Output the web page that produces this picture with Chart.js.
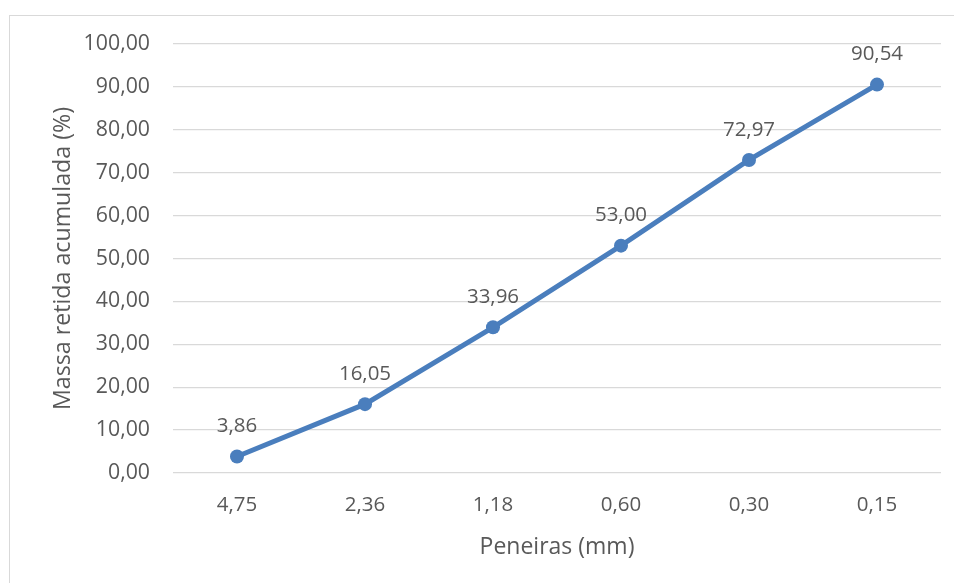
<!DOCTYPE html>
<html>
<head>
<meta charset="utf-8">
<script src="https://cdn.jsdelivr.net/npm/chart.js@4/dist/chart.umd.min.js"></script>
<style>
  html, body { margin: 0; padding: 0; background: #fff; }
  #wrap { position: relative; width: 954px; height: 583px; overflow: hidden; }
  #frame { position: absolute; left: 9px; top: 15px; width: 960px; height: 600px; border: 1px solid #d9d9d9; box-sizing: border-box; }
  canvas { position: absolute; left: 0; top: 0; }
</style>
</head>
<body>
<div id="wrap">
  <div id="frame"></div>
  <canvas id="c" width="954" height="583"></canvas>
</div>
<script>
// Granulometric curve: cumulative retained mass per sieve
const sieves = ['4,75', '2,36', '1,18', '0,60', '0,30', '0,15'];
const retained = [3.86, 16.05, 33.96, 53.00, 72.97, 90.54];
const yTicks = [0, 10, 20, 30, 40, 50, 60, 70, 80, 90, 100];

const FONT = '"Open Sans", sans-serif';
const TEXT = '#595959';
const BLUE = '#4a7ebd';

const fmt = v => v.toFixed(2).replace('.', ',');

// Writes each point's value just above its marker
const valueLabels = {
  id: 'valueLabels',
  afterDatasetsDraw(chart) {
    const ctx = chart.ctx;
    const meta = chart.getDatasetMeta(0);
    ctx.save();
    ctx.font = '20.5px ' + FONT;
    ctx.fillStyle = TEXT;
    ctx.textAlign = 'center';
    ctx.textBaseline = 'middle';
    meta.data.forEach((pt, i) => {
      ctx.fillText(fmt(retained[i]), pt.x, pt.y - 30);
    });
    ctx.restore();
  }
};

new Chart(document.getElementById('c'), {
  type: 'line',
  data: {
    labels: sieves,
    datasets: [{
      data: retained,
      borderColor: BLUE,
      backgroundColor: BLUE,
      borderWidth: 5,
      pointRadius: 7,
      pointHoverRadius: 7,
      pointBorderWidth: 0,
      tension: 0
    }]
  },
  options: {
    responsive: false,
    animation: false,
    devicePixelRatio: 1,
    layout: { padding: { left: 49, top: 44, right: 13, bottom: 22 } },
    plugins: { legend: { display: false }, tooltip: { enabled: false } },
    scales: {
      x: {
        offset: true,
        grid: { display: false },
        border: { display: false },
        ticks: { color: TEXT, font: { family: FONT, size: 20.5 }, padding: 12 },
        title: { display: true, text: 'Peneiras (mm)', color: TEXT, font: { family: FONT, size: 23 }, padding: { top: 6, bottom: 0 } },
        afterFit(s) { s.height = 583 - 22 - 473; }
      },
      y: {
        min: 0, max: 100,
        afterBuildTicks(s) { s.ticks = yTicks.map(v => ({ value: v })); },
        grid: { color: '#d9d9d9', lineWidth: 1.3, drawTicks: false },
        border: { display: false },
        ticks: { color: TEXT, font: { family: FONT, size: 21.3 }, padding: 23, callback: v => fmt(v) },
        title: { display: true, text: 'Massa retida acumulada (%)', color: TEXT, font: { family: FONT, size: 23.2 }, padding: 0 },
        afterFit(s) { s.width = 173 - 49; }
      }
    }
  },
  plugins: [valueLabels]
});
</script>
</body>
</html>
